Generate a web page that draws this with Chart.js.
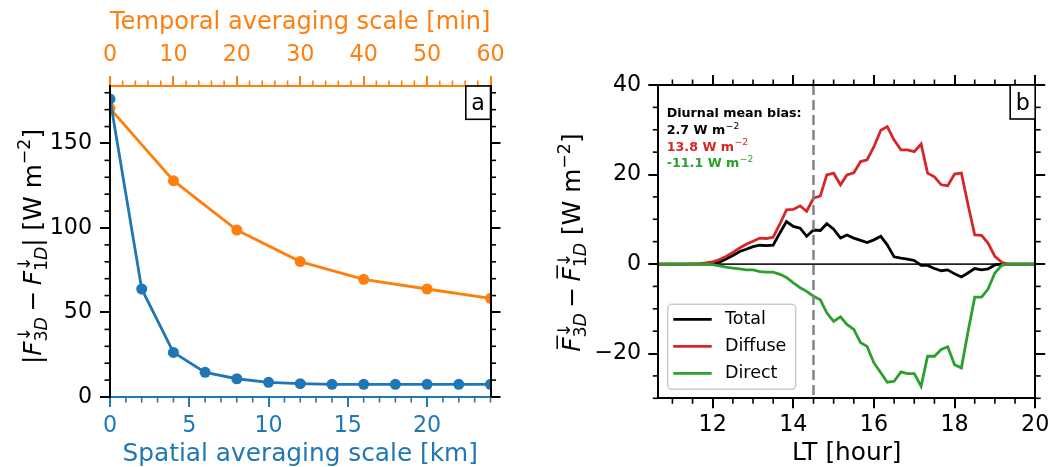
<!DOCTYPE html>
<html><head><meta charset="utf-8">
<script src="https://cdn.jsdelivr.net/npm/chart.js@4"></script>
<style>
html,body{margin:0;padding:0;background:#fff;}
#wrap{position:relative;width:1055px;height:467px;overflow:hidden;background:#fff;}
canvas{position:absolute;top:0;}
</style></head><body>
<div id="wrap">
<canvas id="cA" width="530" height="467" style="left:0"></canvas>
<canvas id="cB" width="525" height="467" style="left:530px"></canvas>
</div>
<script>
// ---------- data: panel a ----------
const spatialScaleKm = [0, 2, 4, 6, 8, 10, 12, 14, 16, 18, 20, 22, 24];
const spatialBias    = [176.3, 63.9, 26.4, 14.6, 10.8, 8.7, 7.9, 7.5, 7.5, 7.5, 7.5, 7.5, 7.5];
const temporalScaleMin = [0, 10, 20, 30, 40, 50, 60];
const temporalBias     = [170.8, 128.0, 98.8, 80.1, 69.6, 63.9, 58.4];

// ---------- data: panel b ----------
const localTimeHours = [10.5, 10.67, 10.83, 11.0, 11.17, 11.33, 11.5, 11.67, 11.83, 12.0, 12.17, 12.33, 12.5, 12.67, 12.83, 13.0, 13.17, 13.33, 13.5, 13.67, 13.83, 14.0, 14.17, 14.33, 14.5, 14.67, 14.83, 15.0, 15.17, 15.33, 15.5, 15.67, 15.83, 16.0, 16.17, 16.33, 16.5, 16.67, 16.83, 17.0, 17.17, 17.33, 17.5, 17.67, 17.83, 18.0, 18.17, 18.33, 18.5, 18.67, 18.83, 19.0, 19.17, 19.33, 19.5, 19.67, 19.83, 20.0];
const totalBias   = [0, 0, 0, 0, 0, 0, 0, 0, 0, 0.05, 0.4, 1.1, 1.9, 2.8, 3.3, 3.9, 4.2, 4.1, 4.2, 7.0, 9.5, 8.4, 8.0, 6.2, 7.6, 7.5, 9.0, 7.8, 5.8, 6.5, 5.8, 5.3, 4.8, 5.4, 6.2, 4.3, 1.6, 1.3, 1.1, 0.8, -0.3, -0.3, -1.0, -1.5, -1.3, -2.2, -2.9, -2.0, -1.0, -1.3, -1.1, -0.2, 0, 0, 0, 0, 0, 0];
const diffuseBias = [0, 0, 0, 0, 0, 0, 0.05, 0.1, 0.25, 0.5, 1.0, 1.7, 2.6, 3.6, 4.4, 5.1, 5.8, 5.7, 6.0, 9.0, 12.1, 12.2, 13.0, 11.8, 14.7, 15.2, 19.9, 20.3, 17.7, 19.9, 20.4, 22.9, 23.3, 26.2, 29.9, 30.7, 27.7, 25.5, 25.5, 25.1, 26.8, 20.3, 19.5, 17.7, 17.5, 20.1, 20.3, 13.4, 6.5, 6.4, 4.7, 1.7, 0.4, 0, 0, 0, 0, 0];
const directBias  = [0, 0, 0, 0, 0, 0, 0, -0.02, -0.05, -0.15, -0.4, -0.7, -0.9, -1.1, -1.3, -1.3, -1.7, -1.8, -1.8, -2.3, -3.0, -4.2, -5.3, -6.1, -7.2, -8.0, -10.9, -12.8, -11.8, -13.5, -14.6, -17.6, -18.4, -22.1, -24.3, -26.4, -26.2, -24.1, -24.5, -24.5, -27.3, -20.6, -20.6, -19.1, -18.5, -22.5, -23.2, -15.3, -7.4, -7.4, -5.6, -2.0, -0.3, 0, 0, 0, 0, 0];
const seriesLabels = ['Total', 'Diffuse', 'Direct'];
const diurnalMeanBias = [2.7, 13.8, -11.1];
const sunsetMarkerHour = 14.5;

// ---------- styling ----------
const FONT = '"DejaVu Sans"';
const BLUE = '#1f77b4', ORANGE = '#ff7f0e', RED = '#d62728', GREEN = '#2ca02c', BLACK = '#000000';
const TICK_SIZE = 22.2, TITLE_SIZE = 24.8;

function minusFmt(v) { return String(v).replace('-', '\u2212'); }

function axis(opts) {
  const o = {
    type: 'linear', position: opts.pos, min: opts.min, max: opts.max,
    ticks: {
      stepSize: opts.step, includeBounds: false, autoSkip: false, maxRotation: 0, minRotation: 0,
      color: opts.color, padding: opts.pad || 0,
      font: { family: FONT, size: TICK_SIZE, lineHeight: 1 },
      callback: opts.blank ? () => '' : (v) => minusFmt(v)
    },
    grid: { display: true, drawOnChartArea: false, drawTicks: true, tickLength: 10, tickWidth: 2, lineWidth: 2, color: opts.color, tickColor: opts.color },
    border: { display: true, color: opts.color, width: 2, z: 1 },
    title: { display: false },
    afterFit: (s) => { if (opts.pos === 'left' || opts.pos === 'right') s.width = opts.size; else s.height = opts.size; }
  };
  if (opts.title) {
    o.title = { display: true, text: opts.title, color: opts.color, font: { family: FONT, size: TITLE_SIZE, lineHeight: 1 }, padding: opts.titlePad };
  }
  return o;
}

// minor ticks drawn through the scales
const minorTicksPlugin = {
  id: 'minorTicks',
  afterDraw(chart, args, conf) {
    const ctx = chart.ctx;
    ctx.save();
    for (const id in conf.scales) {
      const c = conf.scales[id];
      const s = chart.scales[id];
      if (!s) continue;
      ctx.strokeStyle = c.color; ctx.lineWidth = 1.6;
      const start = Math.ceil(s.min / c.step - 1e-9) * c.step;
      for (let v = start; v <= s.max + 1e-9; v += c.step) {
        const r = Math.round(v * 1000) / 1000;
        if (Math.abs(r / c.major - Math.round(r / c.major)) < 1e-6) continue;
        const p = s.getPixelForValue(r);
        ctx.beginPath();
        if (s.position === 'left') { ctx.moveTo(s.right, p); ctx.lineTo(s.right - 5.5, p); }
        else if (s.position === 'right') { ctx.moveTo(s.left, p); ctx.lineTo(s.left + 5.5, p); }
        else if (s.position === 'bottom') { ctx.moveTo(p, s.top); ctx.lineTo(p, s.top + 5.5); }
        else { ctx.moveTo(p, s.bottom); ctx.lineTo(p, s.bottom - 5.5); }
        ctx.stroke();
      }
    }
    ctx.restore();
  }
};

// math-like rotated axis title
function drawMath(ctx, items, cx, cy, size, color) {
  const fontOf = p => `${p.it ? 'italic ' : ''}${size * (p.s || 1)}px ${FONT}`;
  const w = p => { if (p.gap) return p.gap * size; ctx.font = fontOf(p); return ctx.measureText(p.t).width; };
  const sumW = arr => arr.reduce((a, p) => a + w(p), 0);
  const itemW = it => it.sup ? Math.max(sumW(it.sup), sumW(it.sub)) : w(it);
  const total = items.reduce((a, it) => a + itemW(it), 0);
  ctx.save();
  ctx.translate(cx, cy); ctx.rotate(-Math.PI / 2);
  ctx.fillStyle = color; ctx.strokeStyle = color; ctx.textAlign = 'left'; ctx.textBaseline = 'alphabetic';
  const draw = (p, x) => {
    if (p.gap) return;
    ctx.font = fontOf(p);
    ctx.fillText(p.t, x, (p.dy || 0) * size);
    if (p.bar) {
      const ww = ctx.measureText(p.t).width;
      ctx.lineWidth = 1.5;
      ctx.beginPath(); ctx.moveTo(x + 0.12 * size, -0.92 * size); ctx.lineTo(x + ww + 0.08 * size, -0.92 * size); ctx.stroke();
    }
  };
  let x = -total / 2;
  for (const it of items) {
    if (it.sup) {
      let xs = x; for (const p of it.sup) { draw(p, xs); xs += w(p); }
      let xb = x; for (const p of it.sub) { draw(p, xb); xb += w(p); }
      x += itemW(it);
    } else { draw(it, x); x += w(it); }
  }
  ctx.restore();
}

function fluxTerm(sub, bar) {
  return [
    { t: 'F', it: true, bar: bar },
    { sup: [{ t: '\u2193', s: 0.7, dy: -0.42 }], sub: [{ t: sub[0], s: 0.7, dy: 0.25 }, { t: sub[1], s: 0.7, dy: 0.25, it: true }] }
  ];
}
function unitsTail() {
  return [{ t: ' [W m' }, { t: '\u22122', s: 0.7, dy: -0.42 }, { t: ']' }];
}

function panelLabelBox(ctx, ca, letter, w, h, base) {
  ctx.save();
  ctx.fillStyle = '#fff'; ctx.strokeStyle = '#000'; ctx.lineWidth = 1.6;
  ctx.fillRect(ca.right - w, ca.top, w, h);
  ctx.strokeRect(ca.right - w, ca.top, w, h);
  ctx.fillStyle = '#000'; ctx.font = `${TICK_SIZE}px ${FONT}`; ctx.textAlign = 'center'; ctx.textBaseline = 'alphabetic';
  ctx.fillText(letter, ca.right - w / 2, ca.top + base);
  ctx.restore();
}

const panelAExtras = {
  id: 'panelAExtras',
  afterDraw(chart) {
    const ctx = chart.ctx, ca = chart.chartArea;
    panelLabelBox(ctx, ca, 'a', 24.7, 33.3, 24);
    const items = [{ t: '|' }, ...fluxTerm('3D', false), { gap: 0.22 }, { t: '\u2212' }, { gap: 0.22 }, ...fluxTerm('1D', false), { t: '|' }, ...unitsTail()];
    drawMath(ctx, items, 40.7, (ca.top + ca.bottom) / 2 + 5, TITLE_SIZE, BLACK);
  }
};

const panelBExtras = {
  id: 'panelBExtras',
  beforeDatasetsDraw(chart) {
    const ctx = chart.ctx, ca = chart.chartArea, y = chart.scales.y;
    const p = y.getPixelForValue(0);
    ctx.save(); ctx.strokeStyle = '#222'; ctx.lineWidth = 1.8;
    ctx.beginPath(); ctx.moveTo(ca.left, p); ctx.lineTo(ca.right, p); ctx.stroke();
    ctx.restore();
  },
  afterDatasetsDraw(chart) {
    const ctx = chart.ctx, ca = chart.chartArea, x = chart.scales.x;
    const px = x.getPixelForValue(sunsetMarkerHour);
    ctx.save(); ctx.strokeStyle = '#808080'; ctx.lineWidth = 2.4; ctx.setLineDash([10, 5]);
    ctx.beginPath(); ctx.moveTo(px, ca.top); ctx.lineTo(px, ca.bottom); ctx.stroke();
    ctx.restore();
  },
  afterDraw(chart) {
    const ctx = chart.ctx, ca = chart.chartArea;
    panelLabelBox(ctx, ca, 'b', 25, 34, 25);
    // annotation
    ctx.save();
    const x0 = ca.left + 8.4;
    ctx.textAlign = 'left'; ctx.textBaseline = 'alphabetic';
    ctx.font = `bold 12.7px ${FONT}`; ctx.fillStyle = BLACK;
    ctx.fillText('Diurnal mean bias:', x0, ca.top + 32.4);
    const cols = [BLACK, RED, GREEN];
    diurnalMeanBias.forEach((v, i) => {
      const yb = ca.top + 49 + i * 16.7;
      ctx.font = `bold 12.7px ${FONT}`; ctx.fillStyle = cols[i];
      const s = v.toFixed(1) + ' W m';
      ctx.fillText(s, x0, yb);
      const wv = ctx.measureText(s).width;
      ctx.font = `9.2px ${FONT}`;
      ctx.fillText('\u22122', x0 + wv + 0.5, yb - 5.4);
    });
    ctx.restore();
    // legend
    ctx.save();
    const lx = ca.left + 9.4, ly = ca.bottom - 94, lw = 128, lh = 85, r = 4;
    ctx.fillStyle = 'rgba(255,255,255,0.85)'; ctx.strokeStyle = '#cccccc'; ctx.lineWidth = 1.5;
    ctx.beginPath(); ctx.roundRect(lx, ly, lw, lh, r); ctx.fill(); ctx.stroke();
    const ds = chart.data.datasets;
    ds.forEach((d, i) => {
      const yy = ca.bottom - 79 + i * 27;
      ctx.strokeStyle = d.borderColor; ctx.lineWidth = 2.8;
      ctx.beginPath(); ctx.moveTo(ca.left + 15, yy); ctx.lineTo(ca.left + 53.4, yy); ctx.stroke();
      ctx.fillStyle = '#000'; ctx.font = `17.5px ${FONT}`; ctx.textBaseline = 'middle'; ctx.textAlign = 'left';
      ctx.fillText(d.label, ca.left + 66.7, yy + 0.5);
    });
    ctx.restore();
    // y title
    const items = [...fluxTerm('3D', true), { gap: 0.22 }, { t: '\u2212' }, { gap: 0.22 }, ...fluxTerm('1D', true), ...unitsTail()];
    drawMath(ctx, items, 50, (ca.top + ca.bottom) / 2 + 1, TITLE_SIZE, BLACK);
  }
};

const common = {
  responsive: false, animation: false, devicePixelRatio: 1, events: [],
  layout: { padding: 0, autoPadding: false }
};

new Chart(document.getElementById('cA'), {
  type: 'line',
  data: {
    datasets: [
      { label: 'Spatial', data: spatialScaleKm.map((x, i) => ({ x: x, y: spatialBias[i] })), xAxisID: 'x', yAxisID: 'y',
        borderColor: BLUE, backgroundColor: BLUE, borderWidth: 2.8, pointRadius: 5.5, pointBorderWidth: 0, pointBackgroundColor: BLUE, tension: 0 },
      { label: 'Temporal', data: temporalScaleMin.map((x, i) => ({ x: x, y: temporalBias[i] })), xAxisID: 'x2', yAxisID: 'y',
        borderColor: ORANGE, backgroundColor: ORANGE, borderWidth: 2.8, pointRadius: 5.5, pointBorderWidth: 0, pointBackgroundColor: ORANGE, tension: 0 }
    ]
  },
  options: Object.assign({}, common, {
    plugins: {
      legend: { display: false }, tooltip: { enabled: false },
      minorTicks: { scales: {
        x: { step: 1, major: 5, color: BLUE },
        x2: { step: 2, major: 10, color: ORANGE },
        y: { step: 10, major: 50, color: BLACK },
        y2: { step: 10, major: 50, color: BLACK }
      } }
    },
    scales: {
      x: axis({ pos: 'bottom', min: 0, max: 24, step: 5, color: BLUE, pad: 7.8, size: 70, title: 'Spatial averaging scale [km]', titlePad: { top: 0, bottom: 0.4 } }),
      x2: axis({ pos: 'top', min: 0, max: 60, step: 10, color: ORANGE, pad: 9.7, size: 86, title: 'Temporal averaging scale [min]', titlePad: { top: 10.5, bottom: 0 } }),
      y: axis({ pos: 'left', min: 0, max: 184, step: 50, color: BLACK, pad: 8, size: 110 }),
      y2: axis({ pos: 'right', min: 0, max: 184, step: 50, color: BLACK, blank: true, size: 39.5 })
    }
  }),
  plugins: [minorTicksPlugin, panelAExtras]
});

const seriesValues = [totalBias, diffuseBias, directBias];
const seriesColors = [BLACK, RED, GREEN];
new Chart(document.getElementById('cB'), {
  type: 'line',
  data: {
    datasets: seriesLabels.map((lab, k) => ({
      label: lab, data: localTimeHours.map((t, i) => ({ x: t, y: seriesValues[k][i] })),
      borderColor: seriesColors[k], backgroundColor: seriesColors[k], borderWidth: 2.8, pointRadius: 0, tension: 0,
      order: 2 - k, xAxisID: 'x', yAxisID: 'y'
    }))
  },
  options: Object.assign({}, common, {
    plugins: {
      legend: { display: false }, tooltip: { enabled: false },
      minorTicks: { scales: {
        x: { step: 0.5, major: 2, color: BLACK },
        x2: { step: 0.5, major: 2, color: BLACK },
        y: { step: 5, major: 20, color: BLACK },
        y2: { step: 5, major: 20, color: BLACK }
      } }
    },
    scales: {
      x: axis({ pos: 'bottom', min: 10.65, max: 20, step: 2, color: BLACK, pad: 5.7, size: 68.7, title: 'LT [hour]', titlePad: { top: 0, bottom: 1 } }),
      x2: axis({ pos: 'top', min: 10.65, max: 20, step: 2, color: BLACK, blank: true, size: 85 }),
      y: axis({ pos: 'left', min: -30, max: 40, step: 20, color: BLACK, pad: 7.1, size: 128.3 }),
      y2: axis({ pos: 'right', min: -30, max: 40, step: 20, color: BLACK, blank: true, size: 15 })
    }
  }),
  plugins: [minorTicksPlugin, panelBExtras]
});
</script>
</body></html>
